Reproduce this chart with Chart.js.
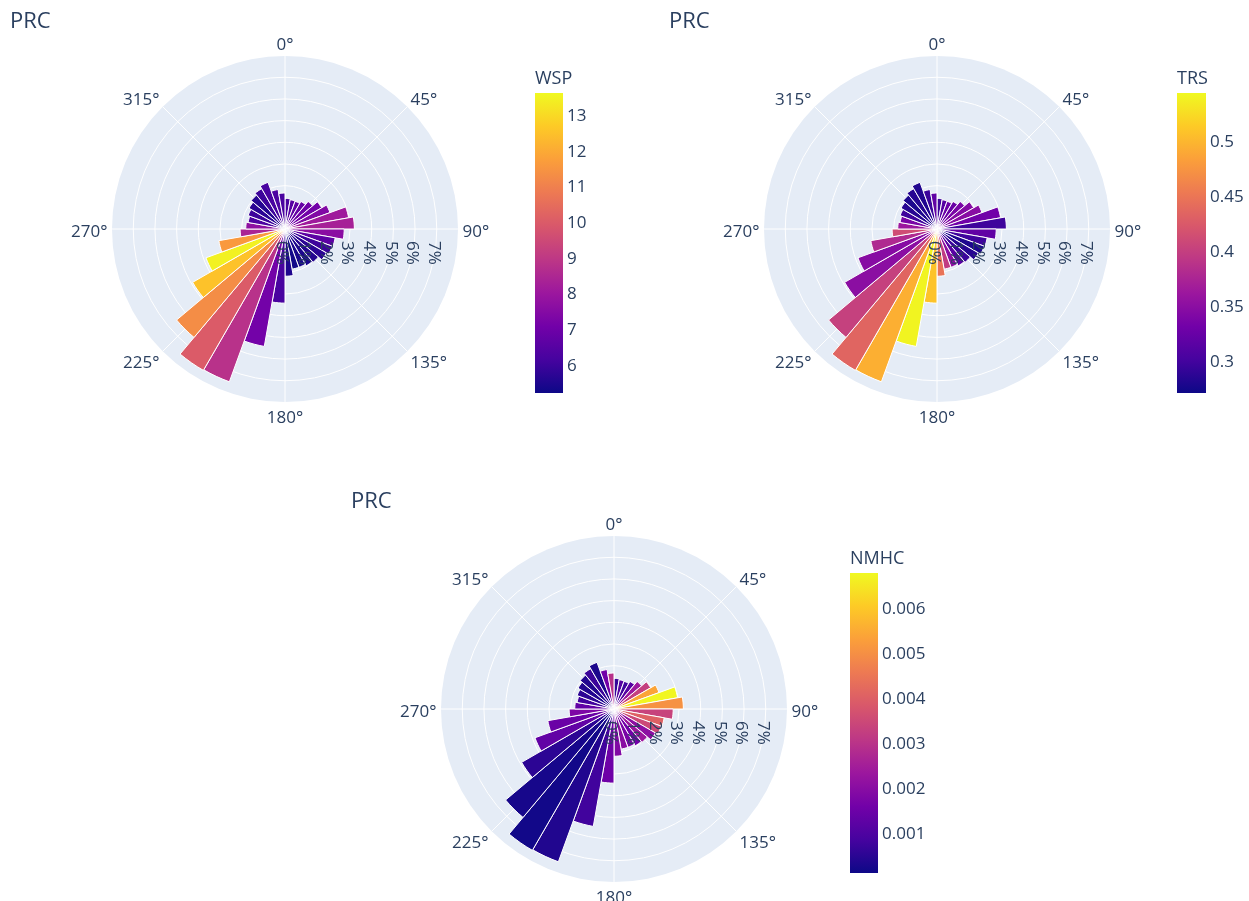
<!DOCTYPE html>
<html>
<head>
<meta charset="utf-8">
<title>PRC wind roses</title>
<script src="https://cdn.jsdelivr.net/npm/chart.js@4.4.1/dist/chart.umd.min.js"></script>
<style>
  html, body { margin: 0; padding: 0; background: #ffffff; }
  body { width: 1249px; height: 901px; position: relative; overflow: hidden; }
  canvas { position: absolute; }
</style>
</head>
<body>
<canvas id="roseWsp"></canvas>
<canvas id="roseTrs"></canvas>
<canvas id="roseNmhc"></canvas>
<script>
// Direction bins (centre of each 10° sector, clockwise from north)
const directions = [5, 15, 25, 35, 45, 55, 65, 75, 85, 95,
  105, 115, 125, 135, 145, 155, 165, 175, 185, 195,
  205, 215, 225, 235, 245, 255, 265, 275, 285, 295,
  305, 315, 325, 335, 345, 355];

// Share of observations per direction bin (%)
const frequency = [1.41, 1.37, 1.36, 1.47, 1.66, 1.95, 2.21, 2.98, 3.20, 2.73,
  2.35, 2.32, 2.21, 2.01, 1.96, 1.88, 1.88, 2.18, 3.42, 5.50,
  7.50, 7.53, 6.53, 4.92, 3.88, 3.10, 2.07, 1.81, 1.73, 1.81,
  1.92, 2.04, 2.15, 2.29, 1.85, 1.66];

// Mean wind speed per bin
const wsp = [6.2, 6.5, 6.7, 6.8, 7.0, 7.1, 7.4, 8.1, 8.3, 7.6,
  6.6, 6.0, 5.7, 5.6, 5.45, 5.4, 5.3, 5.5, 6.2, 7.1,
  8.8, 10.0, 11.3, 12.5, 13.45, 11.6, 8.4, 7.7, 6.3, 6.0,
  5.7, 5.6, 6.0, 6.2, 6.3, 6.2];

// Mean TRS per bin
const trs = [0.298, 0.312, 0.326, 0.326, 0.337, 0.345, 0.348, 0.331, 0.298, 0.320,
  0.298, 0.280, 0.285, 0.296, 0.315, 0.350, 0.397, 0.448, 0.509, 0.541,
  0.495, 0.435, 0.402, 0.350, 0.347, 0.380, 0.413, 0.362, 0.337, 0.298,
  0.285, 0.280, 0.285, 0.282, 0.296, 0.320];

// Mean NMHC per bin
const nmhc = [0.00064, 0.00112, 0.00078, 0.00112, 0.00233, 0.00328, 0.00538, 0.00674, 0.00504, 0.00335,
  0.00403, 0.00349, 0.00206, 0.00233, 0.00159, 0.00172, 0.00200, 0.00186, 0.00152, 0.00078,
  0.00037, 0.00017, 0.00024, 0.00051, 0.00132, 0.00145, 0.00179, 0.00132, 0.00078, 0.00051,
  0.00037, 0.00037, 0.00071, 0.00030, 0.00159, 0.00294];

// Axis ticks
const angleTicks = [0, 45, 90, 135, 180, 225, 270, 315];
const radialTicks = [0, 1, 2, 3, 4, 5, 6, 7];
const radialMax = 7.98;

// Colour bar ranges and ticks
const wspRange = [5.21, 13.61];
const trsRange = [0.2713, 0.544];
const nmhcRange = [0.00011, 0.00678];
const wspTicks = [6, 7, 8, 9, 10, 11, 12, 13];
const trsTicks = [0.3, 0.35, 0.4, 0.45, 0.5];
const nmhcTicks = [0.001, 0.002, 0.003, 0.004, 0.005, 0.006];

// Plasma colour scale
const PLASMA = ['#0d0887', '#46039f', '#7201a8', '#9c179e', '#bd3786',
  '#d8576b', '#ed7953', '#fb9f3a', '#fdca26', '#f0f921'];

const FONT = '"Open Sans", "Noto Sans", "DejaVu Sans", sans-serif';
const TEXT = '#2a3f5f';
const TICK_PX = 17;
const CAP_HALF = TICK_PX * 0.357;

function hexRgb(h) {
  return [parseInt(h.slice(1, 3), 16), parseInt(h.slice(3, 5), 16), parseInt(h.slice(5, 7), 16)];
}
function plasmaAt(t) {
  t = Math.min(1, Math.max(0, t));
  const pos = t * (PLASMA.length - 1);
  const i = Math.min(Math.floor(pos), PLASMA.length - 2);
  const f = pos - i;
  const a = hexRgb(PLASMA[i]), b = hexRgb(PLASMA[i + 1]);
  const c = a.map((v, k) => Math.round(v + (b[k] - v) * f));
  return 'rgb(' + c.join(',') + ')';
}

const panels = [
  { id: 'roseWsp', left: 0, top: 0, width: 640, height: 450, cx: 285, cy: 229,
    titleX: 10, titleY: 28, colour: wsp, range: wspRange, ticks: wspTicks, name: 'WSP',
    cbX: 535, cbY: 93, cbW: 28, cbH: 300 },
  { id: 'roseTrs', left: 640, top: 0, width: 609, height: 450, cx: 937, cy: 229,
    titleX: 669, titleY: 28, colour: trs, range: trsRange, ticks: trsTicks, name: 'TRS',
    cbX: 1177, cbY: 93, cbW: 29, cbH: 300 },
  { id: 'roseNmhc', left: 0, top: 450, width: 1249, height: 451, cx: 614, cy: 709,
    titleX: 351, titleY: 508, colour: nmhc, range: nmhcRange, ticks: nmhcTicks, name: 'NMHC',
    cbX: 850, cbY: 573, cbW: 28, cbH: 300 }
];

function makeDecor(p) {
  return {
    id: 'roseDecor',
    beforeDatasetsDraw(chart) {
      // angular grid spokes every 45°
      const s = chart.scales.r, ctx = chart.ctx;
      ctx.save();
      ctx.strokeStyle = '#ffffff';
      ctx.lineWidth = 1;
      angleTicks.forEach(a => {
        const rad = (a - 90) * Math.PI / 180;
        ctx.beginPath();
        ctx.moveTo(s.xCenter, s.yCenter);
        ctx.lineTo(s.xCenter + s.drawingArea * Math.cos(rad), s.yCenter + s.drawingArea * Math.sin(rad));
        ctx.stroke();
      });
      ctx.restore();
    },
    afterDatasetsDraw(chart) {
      // radial tick labels along the 90° direction, rotated
      const s = chart.scales.r, ctx = chart.ctx;
      ctx.save();
      ctx.font = TICK_PX + 'px ' + FONT;
      ctx.fillStyle = TEXT;
      radialTicks.forEach(v => {
        const d = s.getDistanceFromCenterForValue(v);
        ctx.save();
        ctx.translate(s.xCenter + d - 3, s.yCenter + 12);
        ctx.rotate(Math.PI / 2);
        ctx.textAlign = 'left';
        ctx.textBaseline = 'middle';
        ctx.fillText(v + '%', 0, 0);
        ctx.restore();
      });
      ctx.restore();
    },
    afterDraw(chart) {
      const s = chart.scales.r, ctx = chart.ctx;
      ctx.save();
      ctx.fillStyle = TEXT;
      // angular tick labels
      ctx.font = TICK_PX + 'px ' + FONT;
      ctx.textBaseline = 'alphabetic';
      const R = s.drawingArea;
      angleTicks.forEach(a => {
        const rad = a * Math.PI / 180, sn = Math.sin(rad), cs = Math.cos(rad);
        const x = s.xCenter + sn * (R + 4.5);
        const yc = s.yCenter - cs * (R + 13.5) + 1.5;
        ctx.textAlign = sn > 0.01 ? 'left' : (sn < -0.01 ? 'right' : 'center');
        ctx.fillText(a + '°', x, yc + CAP_HALF);
      });
      // subplot title
      ctx.textAlign = 'left';
      ctx.font = '22px ' + FONT;
      ctx.fillText('PRC', p.titleX - p.left, p.titleY - p.top);
      // colour bar
      const x = p.cbX - p.left, y = p.cbY - p.top, w = p.cbW, h = p.cbH;
      const g = ctx.createLinearGradient(0, y + h, 0, y);
      PLASMA.forEach((c, i) => g.addColorStop(i / (PLASMA.length - 1), c));
      ctx.fillStyle = g;
      ctx.fillRect(x, y, w, h);
      ctx.fillStyle = TEXT;
      ctx.font = TICK_PX + 'px ' + FONT;
      const [lo, hi] = p.range;
      p.ticks.forEach(v => {
        const ty = y + h - (v - lo) / (hi - lo) * h;
        ctx.fillText(String(v), x + w + 4, ty + CAP_HALF);
      });
      ctx.font = '18px ' + FONT;
      ctx.fillText(p.name, x, y - 9);
      ctx.restore();
    }
  };
}

panels.forEach(p => {
  const cv = document.getElementById(p.id);
  cv.width = p.width;
  cv.height = p.height;
  cv.style.left = p.left + 'px';
  cv.style.top = p.top + 'px';
  const padL = p.cx - p.left - 173.5;
  const padT = p.cy - p.top - 173.5;
  const [lo, hi] = p.range;
  new Chart(cv, {
    type: 'polarArea',
    data: {
      labels: directions.map(d => d + '°'),
      datasets: [{
        data: frequency,
        backgroundColor: p.colour.map(v => plasmaAt((v - lo) / (hi - lo))),
        borderColor: '#ffffff',
        borderWidth: 1
      }]
    },
    options: {
      responsive: false,
      animation: false,
      devicePixelRatio: 1,
      events: [],
      layout: { padding: { left: padL, top: padT, right: p.width - padL - 347, bottom: p.height - padT - 347 } },
      plugins: { legend: { display: false }, tooltip: { enabled: false }, title: { display: false } },
      scales: {
        r: {
          min: 0,
          max: radialMax,
          startAngle: 0,
          backgroundColor: '#e5ecf6',
          grid: { circular: true, color: '#ffffff', lineWidth: 1 },
          angleLines: { display: false },
          pointLabels: { display: false },
          ticks: { display: false, stepSize: 1, includeBounds: false }
        }
      }
    },
    plugins: [makeDecor(p)]
  });
});
</script>
</body>
</html>
